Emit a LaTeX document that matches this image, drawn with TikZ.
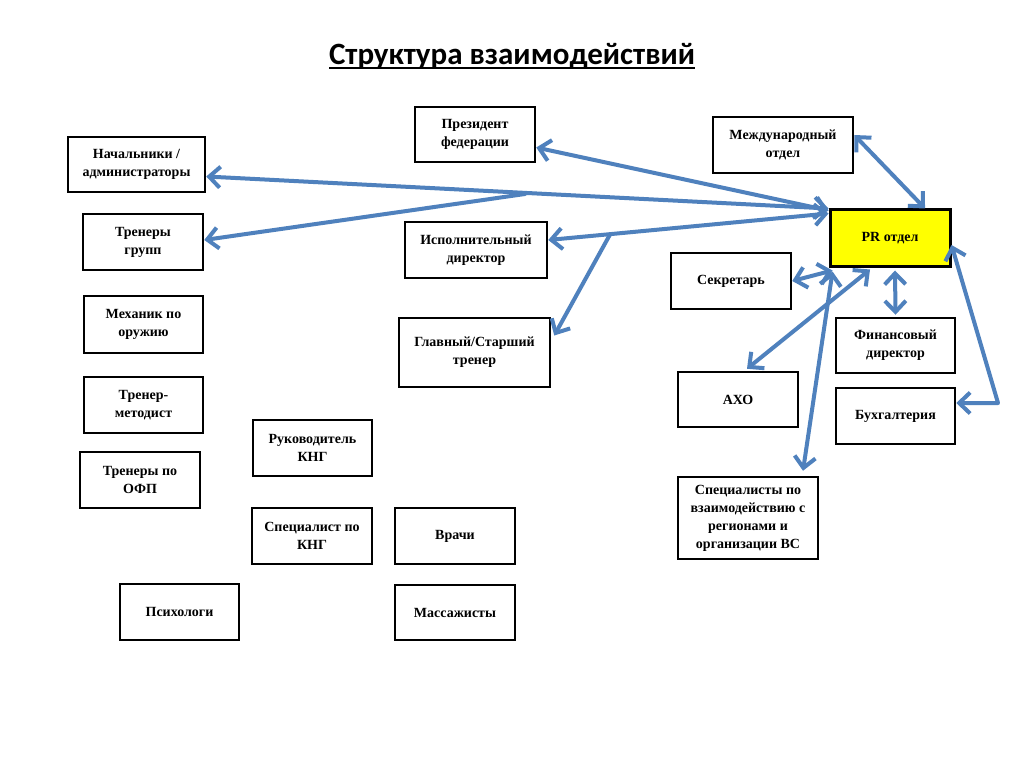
\documentclass[tikz,border=0pt]{standalone}
\usepackage{fontspec}
\setmainfont{Liberation Serif}
\newfontfamily\titlefont{Carlito}
\usetikzlibrary{arrows.meta}
\definecolor{arrowblue}{RGB}{79,129,189}
\definecolor{pryellow}{RGB}{255,255,0}
\newcommand\titleul[1]{\setbox0\hbox{#1}\rlap{\rule[-5pt]{\wd0}{2pt}}\box0}
\begin{document}
\begin{tikzpicture}[x=1pt,y=-1pt,
  box/.style={draw=black, line width=2.5pt, fill=white, align=center,
    font=\bfseries\fontsize{14}{18}\selectfont, inner sep=2pt},
  prbox/.style={box, fill=pryellow, line width=3pt},
  link/.style={draw=arrowblue, line width=4pt, line join=round, line cap=round},
  >={Straight Barb[length=11pt,width=21pt]}]
\useasboundingbox[fill=white] (0,0) rectangle (1024,767);

\node[font=\titlefont\bfseries\fontsize{31}{37}\selectfont] (title) at (512,56) {\titleul{Структура взаимодействий}};

\node[box, minimum width=120pt, minimum height=55pt] (prez) at (475,134.5) {Президент\\федерации};
\node[box, minimum width=140pt, minimum height=56pt] (intl) at (783,145) {Международный\\отдел};
\node[box, minimum width=137pt, minimum height=55pt] (nach) at (136.5,164.5) {Начальники /\\администраторы};
\node[prbox, minimum width=120pt, minimum height=56pt] (pr) at (890,238) {PR отдел};
\node[box, minimum width=120pt, minimum height=56pt] (tren) at (143,242) {Тренеры\\групп};
\node[box, minimum width=142pt, minimum height=56pt] (isp) at (476,250) {Исполнительный\\директор};
\node[box, minimum width=120pt, minimum height=56pt] (sek) at (731,281) {Секретарь};
\node[box, minimum width=119pt, minimum height=57pt] (mech) at (143.5,324.5) {Механик по\\оружию};
\node[box, minimum width=151pt, minimum height=69pt] (glav) at (474.5,352.5) {Главный/Старший\\тренер};
\node[box, minimum width=119pt, minimum height=55pt] (fin) at (895.5,345.5) {Финансовый\\директор};
\node[box, minimum width=120pt, minimum height=55pt] (axo) at (738,399.5) {АХО};
\node[box, minimum width=119pt, minimum height=56pt] (metod) at (143.5,405) {Тренер-\\методист};
\node[box, minimum width=119pt, minimum height=56pt] (buh) at (895.5,416) {Бухгалтерия};
\node[box, minimum width=119pt, minimum height=56pt] (rknd) at (312.5,448) {Руководитель\\КНГ};
\node[box, minimum width=120pt, minimum height=56pt] (ofp) at (140,480) {Тренеры по\\ОФП};
\node[box, minimum width=140pt, minimum height=82pt] (spec) at (748,518) {Специалисты по\\взаимодействию с\\регионами и\\организации ВС};
\node[box, minimum width=120pt, minimum height=56pt] (sknd) at (312,536) {Специалист по\\КНГ};
\node[box, minimum width=120pt, minimum height=56pt] (vrach) at (455,536) {Врачи};
\node[box, minimum width=119pt, minimum height=56pt] (psych) at (179.5,612) {Психологи};
\node[box, minimum width=120pt, minimum height=55pt] (mass) at (455,612.5) {Массажисты};

% connectors
\coordinate (bA) at (525,194);
\coordinate (bD) at (610,234.5);
\coordinate (cB) at (998,403);
\draw[link,<->] (pr.north west) -- ([yshift=-12pt]nach.east);
\draw[link,->] (bA) -- ([yshift=2pt]tren.east);
\draw[link,<->] ([yshift=-2pt]pr.north west) -- ([yshift=-13pt]prez.east);
\draw[link,<->] ([yshift=-5pt]pr.north west) -- ([yshift=10pt]isp.east);
\draw[link,->] (bD) -- ([shift={(3pt,17pt)}]glav.east);
\draw[link,<->] ([yshift=10pt]intl.east) -- ([xshift=35pt]pr.north);
\draw[link,<->] ([yshift=-7pt]pr.east) -- (cB) -- ([yshift=13pt]buh.east);
\draw[link,<->] ([shift={(4pt,-3pt)}]pr.south west) -- (sek.east);
\draw[link,<->] ([shift={(-20pt,-2pt)}]pr.south) -- ([shift={(9pt,2pt)}]axo.north);
\draw[link,<->] ([shift={(4pt,-4pt)}]pr.south west) -- ([shift={(55pt,5pt)}]spec.north);
\draw[link,<->] ([shift={(5pt,-3pt)}]pr.south) -- ([shift={(0pt,2pt)}]fin.north);
\end{tikzpicture}
\end{document}
